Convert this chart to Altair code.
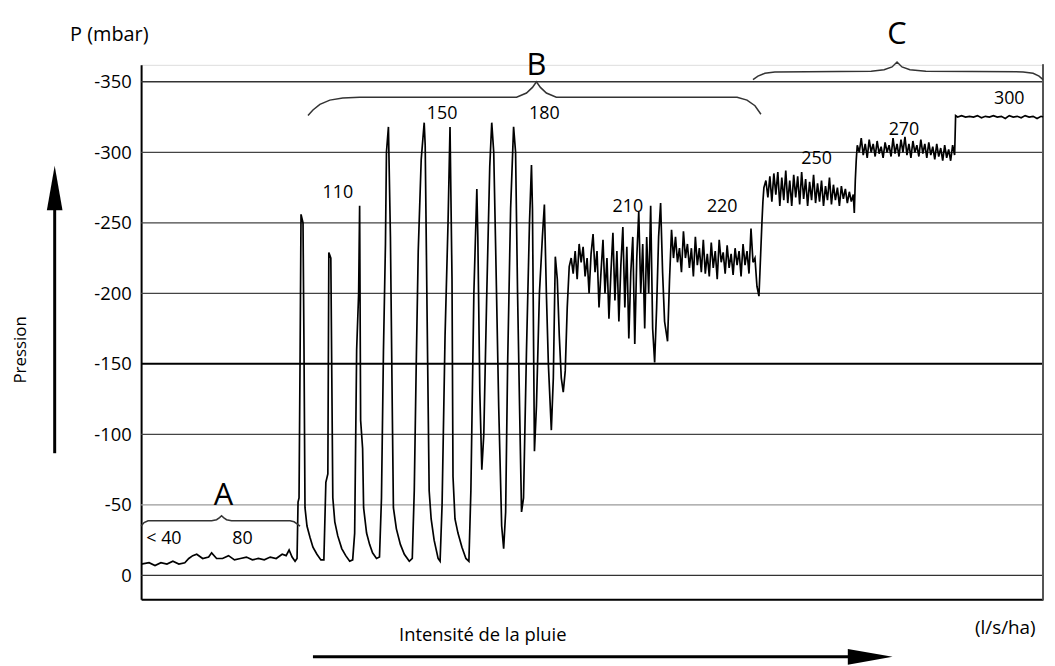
import altair as alt
import pandas as pd

FONT = "Open Sans"

# ---- pressure trace: time (arbitrary units) / suction (mbar) ----
seg_a_t = [142, 150, 156, 162, 168, 174, 180, 186, 190, 194, 198, 204, 210, 213, 218, 224, 230, 236, 242, 248,
           254, 260, 266, 272, 278, 284, 288, 291, 294, 297, 299]
seg_a_p = [8, 9, 7, 9, 8, 10, 8, 9, 12, 14, 15, 12, 13, 16, 12, 12, 14, 11, 12, 13,
           11, 12, 11, 13, 12, 15, 14, 18, 13, 10, 12]

seg_b1_t = [300, 301, 302, 303, 305, 306, 307, 309, 312, 315, 319, 323, 326,
            328, 330, 331, 333, 334, 335, 337, 340, 344, 348, 352, 355,
            357, 359, 361, 362, 363, 365, 366, 369, 372, 375, 379, 382,
            384, 386, 388, 389, 391, 393, 395, 396, 399, 403, 407, 412, 415,
            417, 419, 421, 424, 427, 428, 430, 432, 434, 437, 441, 443,
            445, 448, 451, 453, 455, 456, 458, 461, 465, 469, 472]
seg_b1_p = [52, 55, 150, 256, 250, 160, 48, 35, 27, 20, 15, 11, 11,
            66, 72, 229, 225, 140, 55, 38, 28, 19, 14, 10, 11,
            30, 160, 200, 262, 110, 90, 48, 30, 22, 16, 12, 13,
            55, 160, 235, 300, 318, 240, 110, 48, 33, 22, 15, 10, 12,
            60, 150, 230, 295, 321, 305, 180, 60, 40, 25, 12, 10,
            50, 170, 250, 318, 210, 70, 40, 30, 20, 12, 10]

seg_b2_t = [474, 477, 480, 481, 483, 485, 487, 490, 493, 495, 497, 499, 502, 505, 507, 509,
            511, 514, 517, 519, 521, 523, 525, 527, 530, 533, 535, 536, 538, 540,
            543, 546, 548, 550, 552, 555, 557, 559, 561, 563, 565, 567, 569, 571, 573]
seg_b2_p = [60, 200, 274, 240, 130, 75, 100, 200, 290, 321, 300, 230, 120, 35, 19, 45,
            150, 260, 318, 300, 200, 120, 45, 55, 160, 250, 291, 260, 88, 120,
            200, 240, 263, 200, 150, 103, 140, 226, 210, 170, 140, 130, 145, 190, 219]

seg_210_t = [575, 577, 579, 581, 583, 585, 587, 589, 591, 593, 595, 597, 599, 601, 603, 605, 607, 609,
             611, 613, 615, 617, 619, 621, 623, 625, 627, 629, 631, 633, 635, 637, 639, 641, 643, 645,
             647, 649, 651, 653, 655, 657, 659, 661, 663, 665, 667, 669, 672, 674, 676]
seg_210_p = [225, 214, 230, 210, 235, 222, 233, 212, 225, 200, 228, 242, 215, 230, 190, 215, 238, 200,
             225, 182, 215, 243, 195, 230, 180, 220, 247, 190, 233, 168, 215, 240, 164, 225, 258, 200,
             235, 175, 240, 200, 262, 175, 151, 190, 240, 264, 215, 180, 166, 210, 245]

seg_220_t = [678, 680, 682, 684, 686, 688, 690, 692, 694, 696, 698, 700, 702, 704, 706, 708, 710, 712,
             714, 716, 718, 720, 722, 724, 726, 728, 730, 732, 734, 736, 738, 740, 742, 744, 746, 748,
             750, 752, 754, 756, 758, 760, 762, 764, 765, 767, 768, 769]
seg_220_p = [225, 240, 222, 232, 215, 244, 225, 235, 218, 232, 212, 240, 220, 232, 215, 238, 214, 228,
             212, 236, 218, 230, 210, 238, 222, 229, 214, 234, 218, 228, 213, 232, 220, 230, 212, 235,
             220, 230, 214, 246, 222, 225, 205, 198, 215, 250, 265, 275]

seg_250_t = [771, 773, 775, 777, 779, 781, 783, 785, 787, 789, 791, 793, 795, 797, 799, 801, 803, 805,
             807, 809, 811, 813, 815, 817, 819, 821, 823, 825, 827, 829, 831, 833, 835, 837, 839, 841,
             843, 845, 847, 849, 851, 853, 855, 857, 859, 860, 861, 862, 863]
seg_250_p = [280, 268, 283, 265, 285, 270, 286, 262, 282, 266, 287, 264, 280, 262, 284, 268, 283, 263,
             286, 267, 281, 262, 279, 266, 284, 264, 278, 265, 280, 262, 276, 266, 282, 263, 277, 266,
             275, 262, 276, 267, 274, 264, 272, 265, 270, 257, 280, 295, 305]

seg_270_t = [865, 867, 869, 871, 873, 875, 877, 879, 881, 883, 885, 887, 889, 891, 893, 895, 897, 899,
             901, 903, 905, 907, 909, 911, 913, 915, 917, 919, 921, 923, 925, 927, 929, 931, 933, 935,
             937, 939, 941, 943, 945, 947, 949, 951, 953, 955, 957, 959, 961]
seg_270_p = [300, 310, 298, 306, 296, 309, 300, 306, 297, 308, 299, 304, 296, 307, 300, 305, 297, 310,
             299, 306, 297, 309, 300, 311, 298, 306, 296, 308, 300, 305, 297, 309, 299, 306, 296, 307,
             298, 304, 295, 306, 297, 303, 294, 305, 296, 302, 294, 305, 298]

seg_300_t = [962, 964, 968, 972, 976, 980, 984, 988, 992, 996, 1000, 1004, 1008, 1012, 1016, 1020,
             1024, 1028, 1032, 1036, 1040, 1044, 1048, 1050]
seg_300_p = [326, 325, 326, 325, 325.5, 325, 326, 324.5, 325.5, 325, 326, 325, 325.5, 324, 326, 325,
             325.5, 324.5, 326, 325, 325.5, 324, 325.5, 325]

# gridline levels (mbar suction) and y tick values
grid_levels = [0, 50, 100, 150, 200, 250, 300, 350]
grid_colors = ["#333333", "#9a9a9a", "#444444", "#000000", "#444444", "#444444", "#444444", "#333333"]
grid_widths = [1.3, 1.2, 1.3, 2.0, 1.3, 1.3, 1.3, 1.5]

# intensity labels (l/s/ha) placed along the trace
int_labels = ["< 40", "80", "110", "150", "180", "210", "220", "250", "270", "300"]
int_t = [165, 244, 340, 445, 548, 632, 727, 822, 910, 1016]
int_p = [26, 26, 271, 327, 327, 261, 261, 295, 316, 338]

# regime letters
reg_labels = ["A", "B", "C"]
reg_t = [225, 540, 903]
reg_p = [56, 361, 383]

# braces (t, p)
brace_a_t = [142, 145, 149, 155, 213, 218, 221, 223, 225, 228, 233, 292, 296, 299, 302]
brace_a_p = [35, 37.5, 38.7, 38.7, 38.7, 39.5, 41, 42.3, 41, 39.5, 38.7, 38.7, 38, 36.5, 35]
brace_b_t = [310, 315, 322, 332, 345, 362, 520, 530, 536, 540, 544, 550, 560, 742, 752, 760, 766]
brace_b_p = [326, 330, 334, 337, 338.5, 339, 339, 342, 346, 350, 346, 342, 339, 339, 337, 333, 327]
brace_c_t = [758, 763, 770, 780, 877, 890, 898, 903, 908, 916, 932, 1030, 1040, 1046, 1050]
brace_c_p = [351.5, 354, 356, 357, 357.5, 358.5, 360.5, 364, 360.5, 358.5, 357.5, 357, 356, 354, 351.5]

# ------------------------------------------------------------------------------------
t_all = seg_a_t + seg_b1_t + seg_b2_t + seg_210_t + seg_220_t + seg_250_t + seg_270_t + seg_300_t
p_all = seg_a_p + seg_b1_p + seg_b2_p + seg_210_p + seg_220_p + seg_250_p + seg_270_p + seg_300_p
trace = pd.DataFrame({"t": t_all, "p": p_all})

grid = pd.DataFrame({"p": grid_levels, "c": grid_colors, "w": grid_widths})
ints = pd.DataFrame({"t": int_t, "p": int_p, "lab": int_labels})
regs = pd.DataFrame({"t": reg_t, "p": reg_p, "lab": reg_labels})
braces = pd.concat([
    pd.DataFrame({"t": brace_a_t, "p": brace_a_p, "b": "A", "o": range(len(brace_a_t))}),
    pd.DataFrame({"t": brace_b_t, "p": brace_b_p, "b": "B", "o": range(len(brace_b_t))}),
    pd.DataFrame({"t": brace_c_t, "p": brace_c_p, "b": "C", "o": range(len(brace_c_t))}),
])

W, H = 908, 538
X0, Y0 = 142, 63  # page position of the plot origin

xs = alt.Scale(domain=[142, 1050], nice=False, zero=False)
ys = alt.Scale(domain=[-16.9, 362], nice=False, zero=False)
xax = alt.Axis(labels=False, ticks=False, grid=False, title=None, domainColor="black", domainWidth=2)
yax = alt.Axis(values=grid_levels, labelExpr="datum.value == 0 ? '0' : '-' + datum.value",
               ticks=False, grid=False, title=None, labelFontSize=18.5, labelFont=FONT,
               labelColor="black", labelPadding=10, domainColor="black", domainWidth=2)
X = alt.X("t:Q", scale=xs, axis=xax)
Y = alt.Y("p:Q", scale=ys, axis=yax)

grid_layer = alt.Chart(grid).mark_rule().encode(
    y=Y, x=alt.value(0), x2=alt.value(W),
    color=alt.Color("c:N", scale=None), strokeWidth=alt.StrokeWidth("w:Q", scale=None))

line_layer = alt.Chart(trace).mark_line(color="black", strokeWidth=1.7, clip=False).encode(x=X, y=Y)

brace_layer = alt.Chart(braces).mark_line(color="#333333", strokeWidth=1.5, clip=False).encode(
    x=X, y=Y, detail="b:N", order="o:Q")

int_layer = alt.Chart(ints).mark_text(font=FONT, fontSize=18, color="black").encode(x=X, y=Y, text="lab:N")
reg_layer = alt.Chart(regs).mark_text(font=FONT, fontSize=31, color="black").encode(x=X, y=Y, text="lab:N")

right_border = alt.Chart(grid).mark_rule(color="#555555", strokeWidth=1.5).encode(
    x=alt.value(W), y=alt.value(0), y2=alt.value(H))


def label(txt, px, py, size=17, angle=0):
    return alt.Chart(pd.DataFrame({"txt": [txt]})).mark_text(
        font=FONT, fontSize=size, color="black", align="center", baseline="middle", angle=angle
    ).encode(text="txt:N", x=alt.value(px - X0), y=alt.value(py - Y0))


lab_p = label("P (mbar)", 110, 33, 20)
lab_pres = label("Pression", 21, 350, 17, 270)
lab_int = label("Intensité de la pluie", 486, 637, 18.5)
lab_unit = label("(l/s/ha)", 1012, 630, 19)

one = pd.DataFrame({"k": [0]})
up_shaft = alt.Chart(one).mark_rule(color="black", strokeWidth=3).encode(
    x=alt.value(55 - X0), y=alt.value(205 - Y0), y2=alt.value(454 - Y0))
up_head = alt.Chart(one).mark_point(shape="M-0.35,1L0,-1L0.35,1Z", filled=True, color="black",
                                    opacity=1, size=2025).encode(
    x=alt.value(55 - X0), y=alt.value(187 - Y0))
rt_shaft = alt.Chart(one).mark_rule(color="black", strokeWidth=3).encode(
    x=alt.value(315 - X0), x2=alt.value(860 - X0), y=alt.value(659 - Y0))
rt_head = alt.Chart(one).mark_point(shape="M-1,-0.35L1,0L-1,0.35Z", filled=True, color="black",
                                    opacity=1, size=2025).encode(
    x=alt.value(876 - X0), y=alt.value(659 - Y0))

chart = alt.layer(
    grid_layer, right_border, line_layer, brace_layer, int_layer, reg_layer,
    lab_p, lab_pres, lab_int, lab_unit, up_shaft, up_head, rt_shaft, rt_head
).properties(
    width=W, height=H,
    padding={"left": X0 - 8, "top": Y0 - 8, "right": 4, "bottom": 66},
    autosize=alt.AutoSizeParams(type="none"),
).configure_view(stroke=None).configure(background="white")

chart.save("out.html", embed_options={"renderer": "svg", "actions": False})
